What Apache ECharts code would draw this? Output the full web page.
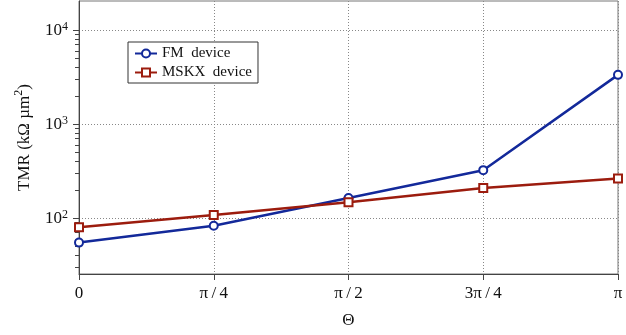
<!DOCTYPE html>
<html><head><meta charset="utf-8">
<script src="https://cdn.jsdelivr.net/npm/echarts@6/dist/echarts.min.js"></script>
<style>html,body{margin:0;padding:0;background:#fff}#c{width:626px;height:335px}</style>
</head><body><div id="c"></div>
<script>
const categories = ['0', 'π\u2009/\u20094', 'π\u2009/\u20092', '3π\u2009/\u20094', 'π'];
const fmDevice = [55, 83, 164, 324, 3340];
const mskxDevice = [80, 108, 148, 209, 264];
const majorTicks = [100, 1000, 10000];
const minorTicks = [30, 40, 50, 60, 70, 80, 90, 200, 300, 400, 500, 600, 700, 800, 900, 2000, 3000, 4000, 5000, 6000, 7000, 8000, 9000];
const yMin = 25.5, yMax = 20370;

const FONT = 'Liberation Serif';
const chart = echarts.init(document.getElementById('c'), null, {renderer: 'canvas'});
chart.setOption({
  animation: false,
  backgroundColor: '#fff',
  grid: {left: 79, right: 8, top: 1, bottom: 61, show: true, borderColor: '#777', borderWidth: 1, backgroundColor: 'transparent'},
  legend: {
    orient: 'vertical', left: 128, top: 42,
    backgroundColor: '#fff', borderColor: '#333', borderWidth: 1, borderRadius: 0,
    padding: [4, 6, 3, 6], itemGap: 4, itemWidth: 22, itemHeight: 10,
    textStyle: {fontFamily: FONT, fontSize: 15, color: '#111'},
    data: ['FM  device', 'MSKX  device']
  },
  xAxis: {
    type: 'category', data: categories, boundaryGap: false,
    name: 'Θ', nameLocation: 'middle', nameGap: 38,
    nameTextStyle: {fontFamily: FONT, fontSize: 17, color: '#111'},
    axisLine: {lineStyle: {color: '#444', width: 1}},
    axisTick: {show: true, inside: false, length: 6, alignWithLabel: true, lineStyle: {color: '#444'}},
    axisLabel: {fontFamily: FONT, fontSize: 17, color: '#111', margin: 11},
    splitLine: {show: true, lineStyle: {color: '#888', type: [1, 2], width: 1}}
  },
  yAxis: [{
    type: 'log', logBase: 10, min: yMin, max: yMax, position: 'left',
    name: '{a|TMR (kΩ µm}{s|2}{a|)}', nameLocation: 'middle', nameGap: 46,
    nameTextStyle: {
      rich: {
        a: {fontFamily: FONT, fontSize: 17, color: '#111', verticalAlign: 'bottom', lineHeight: 20},
        s: {fontFamily: FONT, fontSize: 12, color: '#111', verticalAlign: 'top', lineHeight: 20, padding: [0, 0, 8, 0]}
      }
    },
    axisLine: {show: true, lineStyle: {color: '#444', width: 1}},
    axisTick: {show: true, length: 6, customValues: majorTicks, lineStyle: {color: '#444'}},
    axisLabel: {
      customValues: majorTicks, margin: 11,
      formatter: v => '{b|10}{s|' + Math.round(Math.log10(v)) + '}',
      rich: {
        b: {fontFamily: FONT, fontSize: 17, color: '#111', verticalAlign: 'bottom', lineHeight: 18},
        s: {fontFamily: FONT, fontSize: 12, color: '#111', verticalAlign: 'top', lineHeight: 18, padding: [0, 0, 10, 0]}
      }
    },
    splitLine: {show: true, lineStyle: {color: '#888', type: [1, 2], width: 1}}
  }, {
    type: 'log', logBase: 10, min: yMin, max: yMax, position: 'left',
    axisLine: {show: false},
    axisTick: {show: true, length: 4, customValues: minorTicks, lineStyle: {color: '#444'}},
    axisLabel: {show: false},
    splitLine: {show: false}
  }],
  series: [{
    name: 'FM  device', type: 'line', data: fmDevice, yAxisIndex: 0,
    symbol: 'circle', symbolSize: 8,
    lineStyle: {color: '#13299a', width: 2.5},
    itemStyle: {color: '#fff', borderColor: '#13299a', borderWidth: 2},
    z: 3
  }, {
    name: 'MSKX  device', type: 'line', data: mskxDevice, yAxisIndex: 0,
    symbol: 'rect', symbolSize: 8,
    lineStyle: {color: '#9c1c0e', width: 2.5},
    itemStyle: {color: '#fff', borderColor: '#9c1c0e', borderWidth: 2},
    z: 4
  }]
});
</script></body></html>
